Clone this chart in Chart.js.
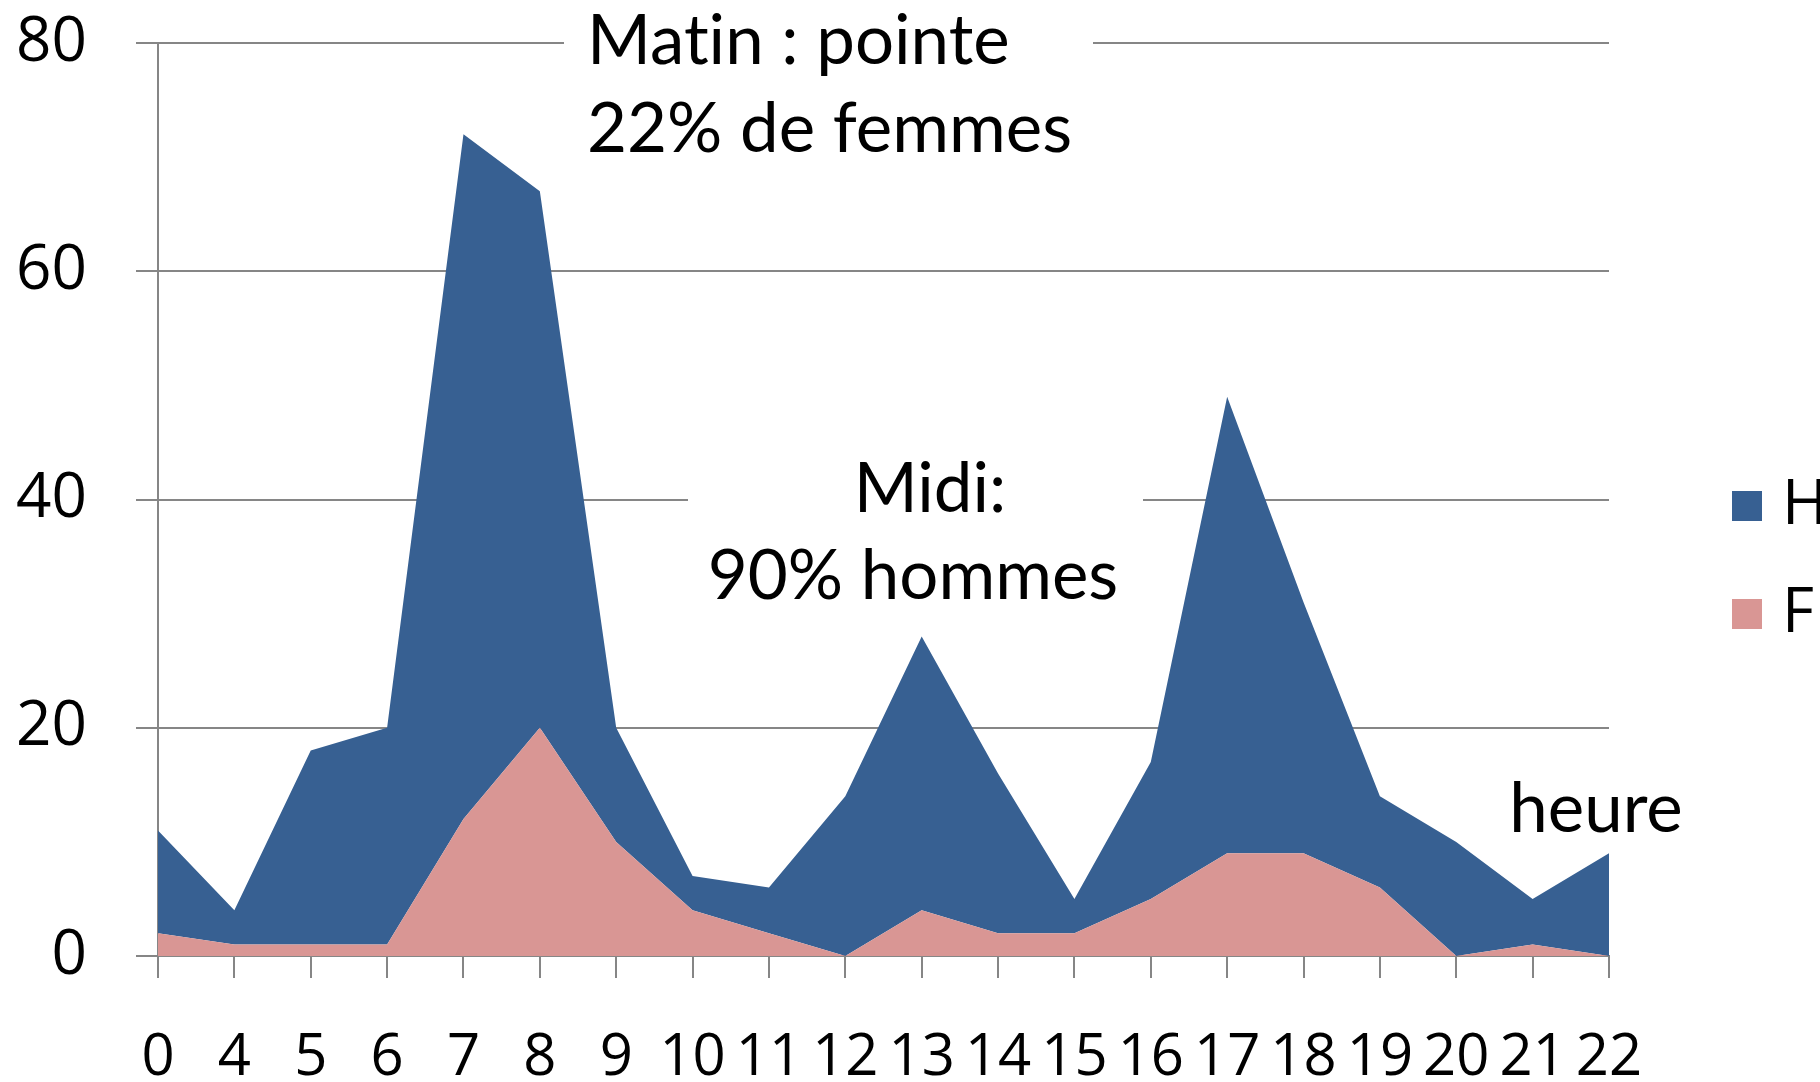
<!DOCTYPE html>
<html>
<head>
<meta charset="utf-8">
<script src="https://cdn.jsdelivr.net/npm/chart.js@4.4.1/dist/chart.umd.min.js"></script>
<style>
  html, body { margin: 0; padding: 0; background: #fff; }
  #wrap { width: 1820px; height: 1082px; }
</style>
</head>
<body>
<div id="wrap"><canvas id="chart"></canvas></div>
<script>
// heures de passage
const heures = ["0", "4", "5", "6", "7", "8", "9", "10", "11", "12", "13", "14", "15", "16", "17", "18", "19", "20", "21", "22"];
const femmes = [2, 1, 1, 1, 12, 20, 10, 4, 2, 0, 4, 2, 2, 5, 9, 9, 6, 0, 1, 0];
const hommes = [9, 3, 17, 19, 60, 47, 10, 3, 4, 14, 24, 14, 3, 12, 40, 22, 8, 10, 4, 9];
const yMax = 80;
const yStep = 20;

const noteMatin = ["Matin : pointe", "22% de femmes"];
const noteMidi = ["Midi:", "90% hommes"];
const noteHeure = "heure";

const BLEU = "#376092";
const ROSE = "#D99694";
const GRIS = "#868686";
const FONT = "'Open Sans', sans-serif";
const FONT_NOTE = "Lato, sans-serif";

const notes = {
    id: "notes",
    beforeDatasetsDraw(chart) {
        const ctx = chart.ctx;
        ctx.save();
        ctx.fillStyle = "#fff";
        // fonds blancs qui coupent les lignes de grille
        ctx.fillRect(564, 0, 529, 150);
        ctx.fillRect(688, 445, 455, 150);
        ctx.restore();
    },
    afterDraw(chart) {
        const ctx = chart.ctx;
        ctx.save();
        ctx.textRendering = "optimizeSpeed";
        ctx.fillStyle = "#000";
        ctx.textBaseline = "middle";
        ctx.font = "69px " + FONT_NOTE;
        ctx.textAlign = "left";
        ctx.fillText(noteMatin[0], 587, 42);
        ctx.fillText(noteMatin[1], 587, 130);
        ctx.textAlign = "center";
        ctx.fillText(noteMidi[0], 930, 490);
        ctx.fillText(noteMidi[1], 913, 577);
        ctx.fillText(noteHeure, 1596, 810);

        // légende (H en haut, F en bas)
        const items = chart.data.datasets.slice().reverse();
        ctx.font = "62px " + FONT;
        ctx.textAlign = "left";
        items.forEach((ds, i) => {
            const cy = 506 + i * 108;
            ctx.fillStyle = ds.backgroundColor;
            ctx.fillRect(1732, cy - 15, 30, 30);
            ctx.fillStyle = "#000";
            ctx.fillText(ds.label, 1782, cy);
        });
        ctx.restore();
    }
};

const chart = new Chart(document.getElementById("chart"), {
    type: "line",
    data: {
        labels: heures,
        datasets: [
            { label: "F", data: femmes, backgroundColor: ROSE, fill: "origin" },
            { label: "H", data: hommes, backgroundColor: BLEU, fill: "-1" }
        ]
    },
    options: {
        responsive: true,
        maintainAspectRatio: false,
        animation: false,
        devicePixelRatio: 1,
        layout: { padding: { top: 43, right: 211, left: 0, bottom: 0 } },
        elements: {
            point: { radius: 0 },
            line: { tension: 0, borderWidth: 0 }
        },
        plugins: {
            legend: { display: false },
            tooltip: { enabled: false }
        },
        scales: {
            x: {
                offset: false,
                grid: { drawOnChartArea: false, color: GRIS, lineWidth: 2, tickLength: 22 },
                border: { color: GRIS, width: 2 },
                ticks: { color: "#000", font: { family: FONT, size: 58 }, padding: 46, autoSkip: false, maxRotation: 0 },
                afterFit: s => { s.height = 126; s.paddingLeft = 0; s.paddingRight = 0; }
            },
            y: {
                stacked: true,
                min: 0,
                max: yMax,
                grid: { color: GRIS, lineWidth: 2, tickLength: 22 },
                border: { color: GRIS, width: 2 },
                ticks: { stepSize: yStep, color: "#000", font: { family: FONT, size: 62 }, padding: 49 },
                afterFit: s => { s.width = 158; s.paddingTop = 0; s.paddingBottom = 0; }
            }
        }
    },
    plugins: [notes]
});
</script>
</body>
</html>
